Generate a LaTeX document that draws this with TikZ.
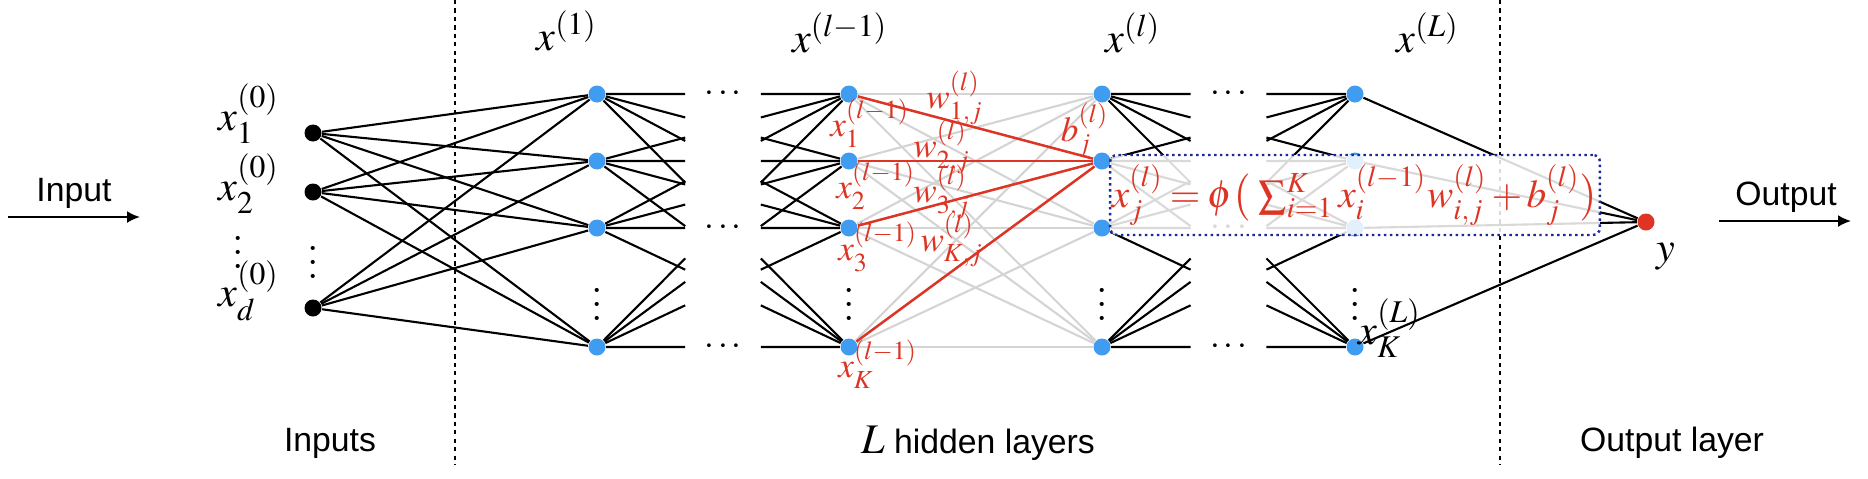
\documentclass[tikz,border=0pt]{standalone}
\usepackage{mathptmx}
\usepackage[no-math]{fontspec}
\newfontfamily\helvfont{Liberation Sans}
\usetikzlibrary{arrows.meta, calc, backgrounds}
\definecolor{NodeBlue}{RGB}{64,156,240}
\definecolor{WeightRed}{RGB}{221,52,36}
\definecolor{EdgeGray}{RGB}{212,212,212}
\definecolor{BoxNavy}{RGB}{30,40,150}

\begin{document}
\begin{tikzpicture}[
  unit/.style={circle, fill=NodeBlue, inner sep=0pt, minimum size=1.7mm},
  inunit/.style={unit, fill=black},
  outunit/.style={unit, fill=WeightRed},
  edge/.style={line width=0.6pt, black},
  faint/.style={line width=0.6pt, EdgeGray},
  hot/.style={line width=0.7pt, WeightRed},
  sep/.style={line width=0.5pt, dash pattern=on 1.2pt off 1.2pt},
  mlabel/.style={font=\fontsize{12}{14}\selectfont},
  rlabel/.style={text=WeightRed, font=\fontsize{10}{12}\selectfont, inner sep=0pt},
  plain/.style={font=\helvfont\fontsize{9.6}{11}\selectfont},
  arrow/.style={-{Latex[length=1.3mm, width=1.2mm]}, line width=0.6pt},
  formula/.style={draw=BoxNavy, densely dotted, line width=0.7pt, rounded corners=2pt,
                  fill=white, fill opacity=0.85, text opacity=1, text=WeightRed,
                  font=\fontsize{11.2}{13}\selectfont, minimum width=4.73cm,
                  minimum height=0.8cm, inner sep=0.5pt},
]
  \useasboundingbox (0,0) rectangle (18.68,4.78);

  % units
  \node[inunit] (inp-1) at (3.13,3.45) {};
  \node[inunit] (inp-2) at (3.13,2.86) {};
  \node[inunit] (inp-3) at (3.13,1.70) {};
  \foreach \k/\y in {1/3.84, 2/3.17, 3/2.50, 4/1.31} {
    \node[unit] (fst-\k) at (5.97,\y) {};
    \node[unit] (prv-\k) at (8.49,\y) {};
    \node[unit] (cur-\k) at (11.02,\y) {};
    \node[unit] (lst-\k) at (13.55,\y) {};
  }
  \node[outunit] (out) at (16.46,2.56) {};

  % dots
  \node[mlabel] (inp-dots) at (3.13,2.26) {$\vdots$};
  \foreach \n/\x in {fst/5.97, prv/8.49, cur/11.02, lst/13.55}
    \node[mlabel] (\n-dots) at (\x,1.84) {$\vdots$};
  \foreach \k in {1,3,4} {
    \node[font=\fontsize{10}{12}\selectfont] (gapa-\k) at ($(fst-\k)!0.5!(prv-\k)$) {$\cdots$};
    \node[font=\fontsize{10}{12}\selectfont] (gapb-\k) at ($(cur-\k)!0.5!(lst-\k)$) {$\cdots$};
  }

  % layer names
  \node[mlabel] (t-fst) at (5.67,4.47) {$x^{(1)}$};
  \node[mlabel] (t-prv) at (8.40,4.45) {$x^{(l-1)}$};
  \node[mlabel] (t-cur) at (11.33,4.45) {$x^{(l)}$};
  \node[mlabel] (t-lst) at (14.28,4.45) {$x^{(L)}$};

  \node[mlabel] (lx-1) at (2.49,3.64) {$x_1^{(0)}$};
  \node[mlabel] (lx-2) at (2.49,2.94) {$x_2^{(0)}$};
  \node[mlabel] (lx-dots) at (2.38,2.36) {$\vdots$};
  \node[mlabel] (lx-3) at (2.49,1.87) {$x_d^{(0)}$};
  \node[mlabel] (lst-lbl) at (13.90,1.50) {$x_K^{(L)}$};
  \node[mlabel] (y-lbl) at (16.66,2.21) {$y$};

  % weights
  \node[rlabel] (lw-1) at (9.55,3.80) {$w_{1,j}^{(l)}$};
  \node[rlabel] (lw-2) at (9.42,3.31) {$w_{2,j}^{(l)}$};
  \node[rlabel] (lw-3) at (9.42,2.86) {$w_{3,j}^{(l)}$};
  \node[rlabel] (lw-4) at (9.52,2.38) {$w_{K,j}^{(l)}$};
  \node[rlabel] (lb) at (10.85,3.48) {$b_j^{(l)}$};
  \node[rlabel] (lp-1) at (8.70,3.55) {$x_1^{(l-1)}$};
  \node[rlabel] (lp-2) at (8.76,2.93) {$x_2^{(l-1)}$};
  \node[rlabel] (lp-3) at (8.78,2.31) {$x_3^{(l-1)}$};
  \node[rlabel] (lp-4) at (8.78,1.14) {$x_K^{(l-1)}$};

  % captions
  \node[plain] (cap-in) at (3.30,0.35) {Inputs};
  \node[plain] (cap-hid) at (9.78,0.35) {{\fontsize{12}{14}\selectfont$L$} hidden layers};
  \node[plain] (cap-out) at (16.72,0.35) {Output layer};
  \node[plain] (in-text) at (0.74,2.85) {Input};
  \node[plain] (out-text) at (17.86,2.81) {Output};

  \coordinate (in-start) at (0.08,2.61);
  \coordinate (in-end) at (1.40,2.61);
  \coordinate (out-start) at (17.19,2.57);
  \coordinate (out-end) at (18.51,2.57);
  \coordinate (sep1-top) at (4.55,4.78);
  \coordinate (sep1-bot) at (4.55,0.13);
  \coordinate (sep2-top) at (15.00,4.78);
  \coordinate (sep2-bot) at (15.00,0.13);
  \draw[arrow] (in-start) -- (in-end);
  \draw[arrow] (out-start) -- (out-end);

  \begin{scope}[on background layer]
    \draw[sep] (sep1-top) -- (sep1-bot);
    \draw[sep] (sep2-top) -- (sep2-bot);
    \foreach \i in {1,2,3}
      \foreach \k in {1,...,4}
        \draw[edge] (inp-\i) -- (fst-\k);
    \foreach \i in {1,...,4}
      \foreach \k in {1,...,4} {
        \draw[edge] (fst-\i) -- ($(fst-\i)!0.35!(prv-\k)$);
        \draw[edge] ($(prv-\k)!0.35!(fst-\i)$) -- (prv-\k);
        \draw[edge] (cur-\i) -- ($(cur-\i)!0.35!(lst-\k)$);
        \draw[edge] ($(lst-\k)!0.35!(cur-\i)$) -- (lst-\k);
        \draw[faint] (prv-\i) -- (cur-\k);
      }
    \foreach \i in {1,...,4}
      \draw[hot] (prv-\i) -- (cur-2);
    \foreach \i in {1,...,4}
      \draw[edge] (lst-\i) -- (out);
  \end{scope}

  % update rule
  \node[formula] (upd) at (13.55,2.83)
    {$\thickmuskip=3mu \medmuskip=2mu
     x_j^{(l)} = \phi\big(\,\textstyle\sum_{i=1}^{K} x_i^{(l-1)} w_{i,j}^{(l)} + b_j^{(l)}\big)$};
\end{tikzpicture}
\end{document}
